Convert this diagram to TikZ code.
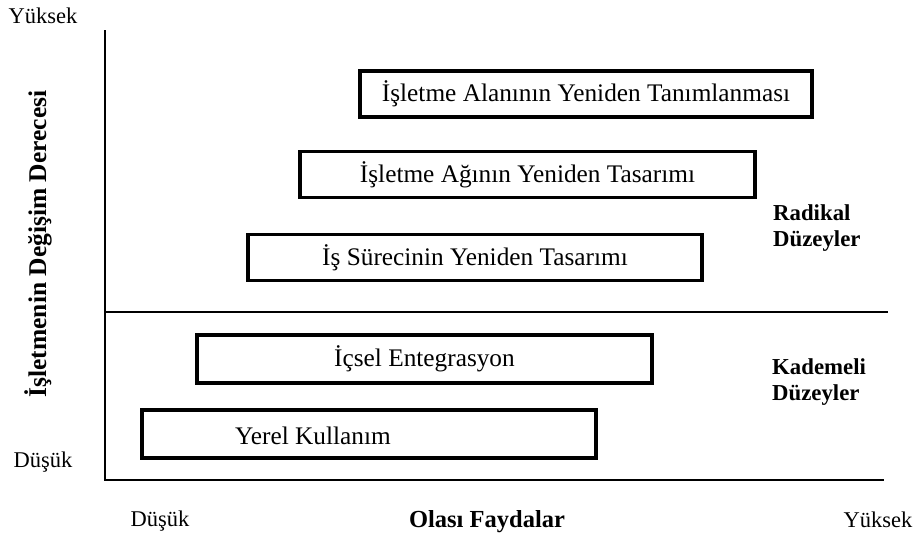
\documentclass[tikz,border=0pt]{standalone}
\usepackage{fontspec}
\setmainfont{Liberation Serif}
\begin{document}
\begin{tikzpicture}[x=1pt,y=-1pt,
  level/.style={draw, line width=3.2pt, inner sep=0pt, minimum height=46pt,
    font=\fontsize{25.3}{29}\selectfont},
  axisline/.style={line width=1.8pt},
  ticklabel/.style={inner sep=0pt, font=\fontsize{22.5}{26}\selectfont},
  axistitle/.style={inner sep=0pt, font=\fontsize{24.5}{28}\selectfont\bfseries},
  zonelabel/.style={inner sep=0pt, align=left, font=\fontsize{22.8}{25.5}\selectfont\bfseries}]
  \useasboundingbox (0,0) rectangle (918,542);

  % axes and the divider between the two zones
  \coordinate (top) at (105,30);
  \coordinate (origin) at (105,480);
  \coordinate (xend) at (884,480);
  \coordinate (divL) at (105,312);
  \coordinate (divR) at (888,312);
  \draw[axisline] (top) -- (origin) -- (xend);
  \draw[axisline] (divL) -- (divR);

  % levels of change
  \node[level, minimum width=452pt] (b1) at (586,94)
    {İşletme Alanının Yeniden Tanımlanması};
  \node[level, minimum width=455pt] (b2) at (527.5,174.5)
    {İşletme Ağının Yeniden Tasarımı};
  \node[level, minimum width=454pt] (b3) at (475,257.5)
    {İş Sürecinin Yeniden Tasarımı};
  \node[level, minimum width=455pt, minimum height=48pt] (b4) at (424.5,359)
    {İçsel Entegrasyon};
  \node[level, minimum width=454pt, minimum height=48pt] (b5) at (369,434) {};
  \node[level, draw=none, minimum height=0pt, minimum width=0pt] (t5) at (313,436)
    {Yerel Kullanım};

  % axis labels
  \node[ticklabel] (yhigh) at (43,16) {Yüksek};
  \node[ticklabel] (ylow) at (43,462) {Düşük};
  \node[ticklabel] (xlow) at (160,521) {Düşük};
  \node[ticklabel] (xhigh) at (878,520) {Yüksek};
  \node[axistitle] (xtitle) at (487,522) {Olası Faydalar};
  \node[axistitle, rotate=90, font=\fontsize{25.5}{29}\selectfont\bfseries] (ytitle)
    at (38,244) {İşletmenin Değişim Derecesi};

  % zone labels
  \node[zonelabel, anchor=west] (radical) at (773,228) {Radikal\\Düzeyler};
  \node[zonelabel, anchor=west] (incremental) at (772,382) {Kademeli\\Düzeyler};
\end{tikzpicture}
\end{document}
